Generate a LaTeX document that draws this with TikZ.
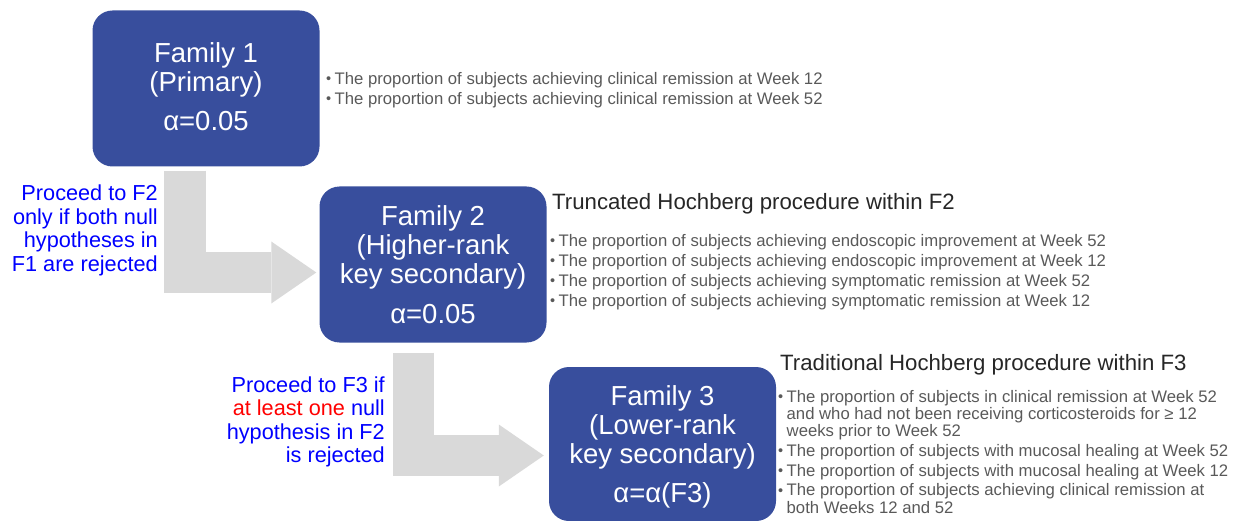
\documentclass[tikz,border=0pt]{standalone}
\usepackage{fontspec}
\setmainfont{Liberation Sans}
\usetikzlibrary{arrows.meta}

\definecolor{famblue}{RGB}{56,78,157}
\definecolor{flowgray}{RGB}{217,217,217}
\definecolor{listgray}{RGB}{89,89,89}
\definecolor{noteblue}{RGB}{0,0,255}

\newcommand{\bul}{\makebox[8.5pt][l]{\raisebox{0.6pt}{\fontsize{14.5}{14.5}\selectfont •}}}
\newcommand{\nob}{\hspace*{8.5pt}}

\begin{document}
\begin{tikzpicture}[x=1pt, y=-1pt,
  family/.style={rectangle, rounded corners=20pt, fill=famblue, text=white, align=center, minimum width=227pt, minimum height=156pt, inner sep=0pt, font=\fontsize{27.5}{29}\selectfont},
  flow/.style={draw=flowgray, line width=41.5pt, -{Triangle[width=62pt, length=45pt, line width=0pt]}},
  note/.style={text=noteblue, align=right, inner sep=0pt, anchor=east, font=\fontsize{21.7}{23.5}\selectfont},
  proc/.style={text=black!85, inner sep=0pt, anchor=base west, font=\fontsize{22.2}{24}\selectfont},
  items/.style={text=listgray, align=left, inner sep=0pt, anchor=north west, font=\fontsize{16.7}{20}\selectfont}]

  \useasboundingbox (0,0) rectangle (1239,521);

  % Familias de hipótesis
  \node[family] (f1) at (206,88.5) {Family 1\\(Primary)\\[10.5pt]α=0.05\rule[-4pt]{0pt}{4pt}};
  \node[family] (f2) at (433,264.5) {Family 2\\(Higher-rank\\key secondary)\\[10.5pt]α=0.05};
  \node[family, minimum height=154pt] (f3) at (662.5,444) {\rule{0pt}{26pt}Family 3\\(Lower-rank\\key secondary)\\[10.5pt]α=α(F3)};

  % Flechas grises entre familias
  \draw[flow] ([xshift=-21pt, yshift=-4pt]f1.south) |- ([xshift=-3pt, yshift=-8pt]f2.west);
  \draw[flow] ([xshift=-19.5pt, yshift=-10pt]f2.south) |- ([xshift=-5pt, yshift=-11.5pt]f3.west);

  % Condiciones para pasar de familia
  \node[note] (c1) at (158,230.5) {Proceed to F2\\only if both null\\hypotheses in\\F1 are rejected};
  \node[note] (c2) at (385,422) {Proceed to F3 if\\\textcolor{red}{at least one} null\\hypothesis in F2\\is rejected};

  % Procedimientos
  \node[proc] (p2) at (552,209.5) {Truncated Hochberg procedure within F2};
  \node[proc] (p3) at (780,370) {Traditional Hochberg procedure within F3};

  % Hipótesis de cada familia
  \node[items] (h1) at (326,72) {\bul The proportion of subjects achieving clinical remission at Week 12\\
    \bul The proportion of subjects achieving clinical remission at Week 52};
  \node[items] (h2) at (550,234) {\bul The proportion of subjects achieving endoscopic improvement at Week 52\\
    \bul The proportion of subjects achieving endoscopic improvement at Week 12\\
    \bul The proportion of subjects achieving symptomatic remission at Week 52\\
    \bul The proportion of subjects achieving symptomatic remission at Week 12};
  \node[items, font=\fontsize{16.7}{17.3}\selectfont] (h3) at (778,390) {\bul The proportion of subjects in clinical remission at Week 52\\
    \nob and who had not been receiving corticosteroids for ≥ 12\\
    \nob weeks prior to Week 52\\[2.3pt]
    \bul The proportion of subjects with mucosal healing at Week 52\\[2.3pt]
    \bul The proportion of subjects with mucosal healing at Week 12\\[2.3pt]
    \bul The proportion of subjects achieving clinical remission at\\
    \nob both Weeks 12 and 52};

\end{tikzpicture}
\end{document}
